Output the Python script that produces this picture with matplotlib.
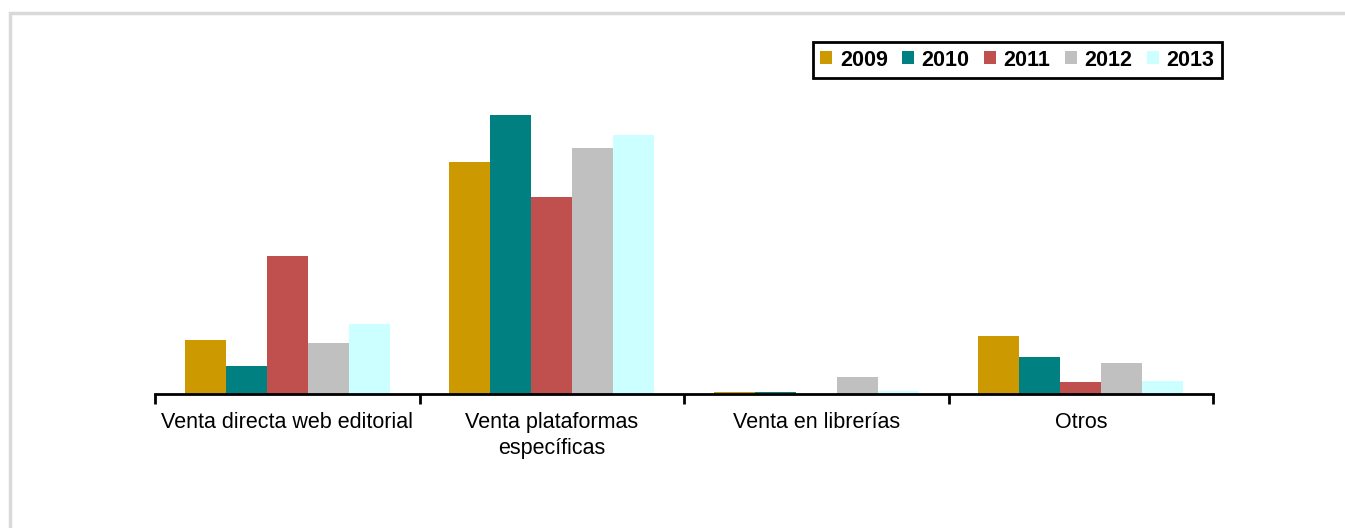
import numpy as np
import matplotlib.pyplot as plt
from matplotlib.patches import Rectangle

plt.rcParams['font.family'] = ['Liberation Sans', 'DejaVu Sans']

categorias = ["Venta directa web editorial", "Venta plataformas\nespecíficas",
              "Venta en librerías", "Otros"]
anios = ["2009", "2010", "2011", "2012", "2013"]
colores = ["#CC9900", "#008080", "#C0504D", "#C0C0C0", "#CCFFFF"]

# valores (altura relativa)
v2009 = [54, 232, 2, 58]
v2010 = [28, 279, 2, 37]
v2011 = [138, 197, 0, 12]
v2012 = [51, 246, 17, 31]
v2013 = [70, 259, 3, 13]
valores = [v2009, v2010, v2011, v2012, v2013]

fig = plt.figure(figsize=(13.45, 5.28), dpi=100, facecolor="white")
ax = fig.add_axes([155/1345, 134/528, (1213-155)/1345, 300/528])

x = np.arange(len(categorias))
ancho = 0.155
for i, (anio, vals) in enumerate(zip(anios, valores)):
    ax.bar(x + (i - 2) * ancho, vals, ancho, color=colores[i], label=anio)

ax.set_xlim(-0.5, len(categorias) - 0.5)
ax.set_ylim(0, 300)
ax.set_yticks([])
for s in ["top", "right", "left"]:
    ax.spines[s].set_visible(False)
ax.spines["bottom"].set_linewidth(2)

ax.set_xticks(np.arange(len(categorias) + 1) - 0.5)
ax.set_xticklabels([])
ax.tick_params(axis="x", which="major", length=7, width=2, direction="out")
ax.set_xticks(x, minor=True)
ax.set_xticklabels(categorias, minor=True, fontsize=15.5, linespacing=1.3)
ax.tick_params(axis="x", which="minor", length=0, pad=13)

leg = ax.legend(loc="upper right", bbox_to_anchor=(1222/1345, 1 - 42/528),
                bbox_transform=fig.transFigure, ncol=5, fancybox=False,
                framealpha=1, prop={"weight": "bold", "size": 15.5},
                handlelength=0.55, handleheight=0.55, handletextpad=0.35,
                columnspacing=0.68, borderpad=0.35, borderaxespad=0)
leg.get_frame().set_edgecolor("black")
leg.get_frame().set_linewidth(2)

# marco gris del área del gráfico
fig.patches.append(Rectangle((10/1345, -0.1), 1.2, 1.1 - 13/528,
                             transform=fig.transFigure, fill=False,
                             edgecolor="#D9D9D9", linewidth=2.5))

plt.savefig("out.png", dpi=100, facecolor="white")
